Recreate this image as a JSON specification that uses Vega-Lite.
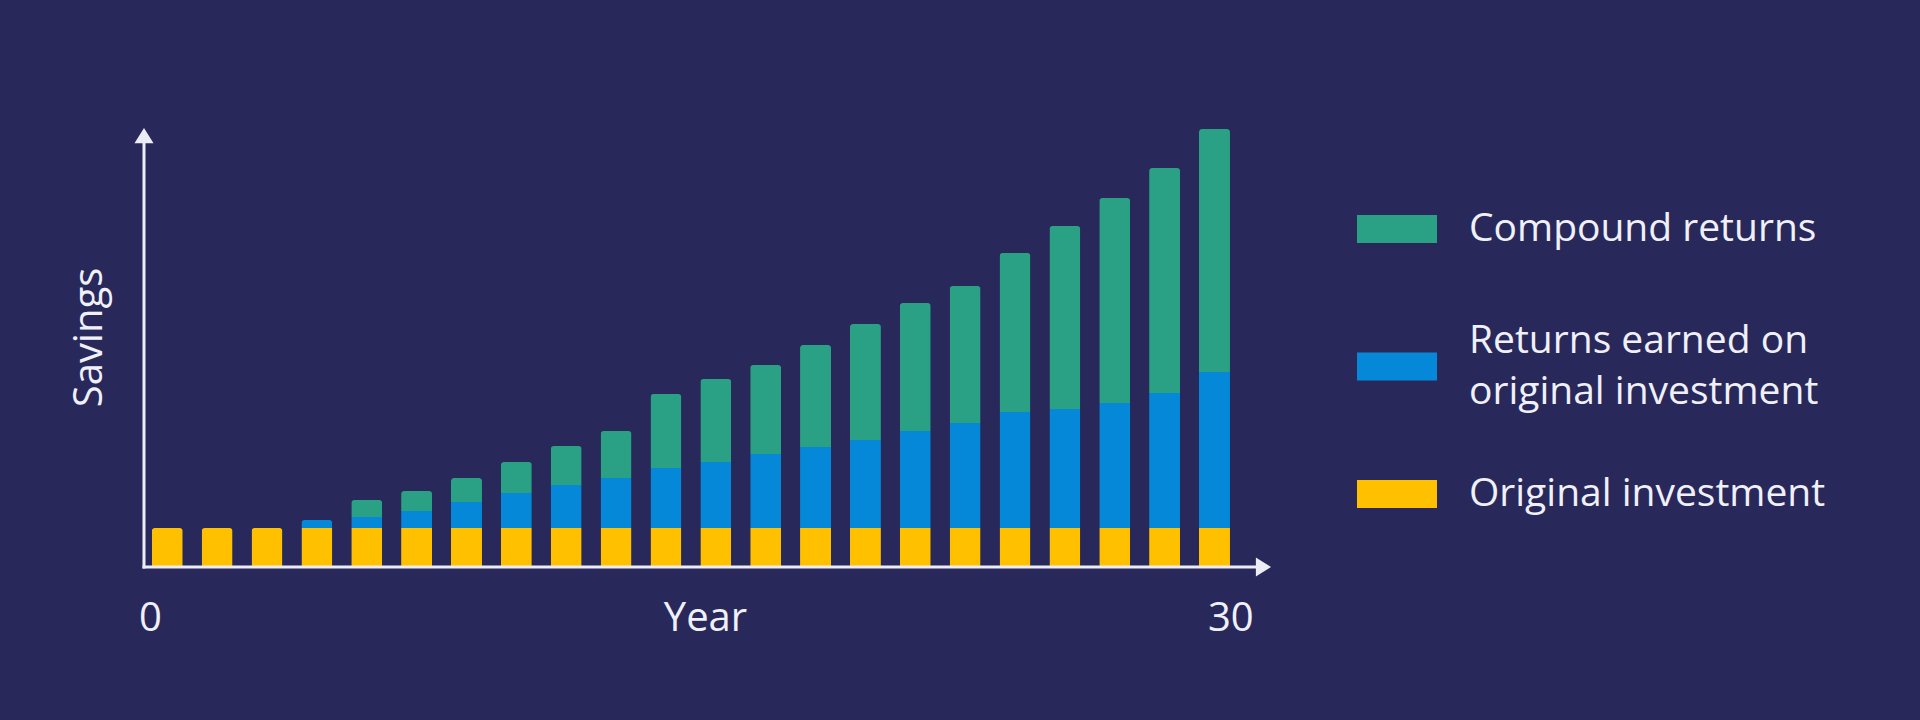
{
  "$schema": "https://vega.github.io/schema/vega-lite/v6.json",
  "width": 1132,
  "height": 439,
  "autosize": {"type": "none"},
  "padding": {"left": 139, "top": 128, "right": 649, "bottom": 153},
  "background": "#28295a",
  "config": {"view": {"stroke": null}, "font": "Open Sans"},
  "data": {
    "values": [
      {"bar": 1, "component": "Original investment", "order": 1, "value": 39},
      {"bar": 2, "component": "Original investment", "order": 1, "value": 39},
      {"bar": 3, "component": "Original investment", "order": 1, "value": 39},
      {"bar": 4, "component": "Original investment", "order": 1, "value": 39},
      {"bar": 5, "component": "Original investment", "order": 1, "value": 39},
      {"bar": 6, "component": "Original investment", "order": 1, "value": 39},
      {"bar": 7, "component": "Original investment", "order": 1, "value": 39},
      {"bar": 8, "component": "Original investment", "order": 1, "value": 39},
      {"bar": 9, "component": "Original investment", "order": 1, "value": 39},
      {"bar": 10, "component": "Original investment", "order": 1, "value": 39},
      {"bar": 11, "component": "Original investment", "order": 1, "value": 39},
      {"bar": 12, "component": "Original investment", "order": 1, "value": 39},
      {"bar": 13, "component": "Original investment", "order": 1, "value": 39},
      {"bar": 14, "component": "Original investment", "order": 1, "value": 39},
      {"bar": 15, "component": "Original investment", "order": 1, "value": 39},
      {"bar": 16, "component": "Original investment", "order": 1, "value": 39},
      {"bar": 17, "component": "Original investment", "order": 1, "value": 39},
      {"bar": 18, "component": "Original investment", "order": 1, "value": 39},
      {"bar": 19, "component": "Original investment", "order": 1, "value": 39},
      {"bar": 20, "component": "Original investment", "order": 1, "value": 39},
      {"bar": 21, "component": "Original investment", "order": 1, "value": 39},
      {"bar": 22, "component": "Original investment", "order": 1, "value": 39},
      {"bar": 4, "component": "Returns earned on original investment", "order": 2, "value": 8},
      {"bar": 5, "component": "Returns earned on original investment", "order": 2, "value": 11},
      {"bar": 6, "component": "Returns earned on original investment", "order": 2, "value": 17},
      {"bar": 7, "component": "Returns earned on original investment", "order": 2, "value": 26},
      {"bar": 8, "component": "Returns earned on original investment", "order": 2, "value": 35},
      {"bar": 9, "component": "Returns earned on original investment", "order": 2, "value": 43},
      {"bar": 10, "component": "Returns earned on original investment", "order": 2, "value": 50},
      {"bar": 11, "component": "Returns earned on original investment", "order": 2, "value": 60},
      {"bar": 12, "component": "Returns earned on original investment", "order": 2, "value": 66},
      {"bar": 13, "component": "Returns earned on original investment", "order": 2, "value": 74},
      {"bar": 14, "component": "Returns earned on original investment", "order": 2, "value": 81},
      {"bar": 15, "component": "Returns earned on original investment", "order": 2, "value": 88},
      {"bar": 16, "component": "Returns earned on original investment", "order": 2, "value": 97},
      {"bar": 17, "component": "Returns earned on original investment", "order": 2, "value": 105},
      {"bar": 18, "component": "Returns earned on original investment", "order": 2, "value": 116},
      {"bar": 19, "component": "Returns earned on original investment", "order": 2, "value": 119},
      {"bar": 20, "component": "Returns earned on original investment", "order": 2, "value": 125},
      {"bar": 21, "component": "Returns earned on original investment", "order": 2, "value": 135},
      {"bar": 22, "component": "Returns earned on original investment", "order": 2, "value": 156},
      {"bar": 5, "component": "Compound returns", "order": 3, "value": 17},
      {"bar": 6, "component": "Compound returns", "order": 3, "value": 20},
      {"bar": 7, "component": "Compound returns", "order": 3, "value": 24},
      {"bar": 8, "component": "Compound returns", "order": 3, "value": 31},
      {"bar": 9, "component": "Compound returns", "order": 3, "value": 39},
      {"bar": 10, "component": "Compound returns", "order": 3, "value": 47},
      {"bar": 11, "component": "Compound returns", "order": 3, "value": 74},
      {"bar": 12, "component": "Compound returns", "order": 3, "value": 83},
      {"bar": 13, "component": "Compound returns", "order": 3, "value": 89},
      {"bar": 14, "component": "Compound returns", "order": 3, "value": 102},
      {"bar": 15, "component": "Compound returns", "order": 3, "value": 116},
      {"bar": 16, "component": "Compound returns", "order": 3, "value": 128},
      {"bar": 17, "component": "Compound returns", "order": 3, "value": 137},
      {"bar": 18, "component": "Compound returns", "order": 3, "value": 159},
      {"bar": 19, "component": "Compound returns", "order": 3, "value": 183},
      {"bar": 20, "component": "Compound returns", "order": 3, "value": 205},
      {"bar": 21, "component": "Compound returns", "order": 3, "value": 225},
      {"bar": 22, "component": "Compound returns", "order": 3, "value": 243}
    ]
  },
  "layer": [
    {
      "mark": {"type": "bar", "width": 31, "cornerRadiusTopLeft": 3, "cornerRadiusTopRight": 3},
      "encoding": {
        "x": {
          "field": "bar",
          "type": "quantitative",
          "scale": {"domain": [0.533, 23.033], "nice": false, "zero": false},
          "axis": {
            "title": "Year",
            "values": [0.652, 22.318],
            "labelExpr": "datum.value < 1 ? '0' : '30'",
            "domain": false,
            "ticks": false,
            "tickSize": 0,
            "grid": false,
            "labelFont": "Open Sans",
            "labelFontSize": 40,
            "labelColor": "#f0f0fa",
            "labelBaseline": "alphabetic",
            "labelPadding": 63,
            "labelFlush": false,
            "labelOverlap": false,
            "titleFont": "Open Sans",
            "titleFontSize": 40,
            "titleFontWeight": "normal",
            "titleColor": "#f0f0fa",
            "titleY": 63,
            "titleBaseline": "alphabetic"
          }
        },
        "y": {
          "field": "value",
          "type": "quantitative",
          "stack": "zero",
          "scale": {"domain": [0, 439], "nice": false},
          "axis": {
            "title": "Savings",
            "domain": false,
            "ticks": false,
            "labels": false,
            "grid": false,
            "titleFont": "Open Sans",
            "titleFontSize": 40,
            "titleFontWeight": "normal",
            "titleColor": "#f0f0fa",
            "titleAngle": -90,
            "titleBaseline": "alphabetic",
            "titleX": -38,
            "titleY": 209
          }
        },
        "color": {
          "field": "component",
          "type": "nominal",
          "scale": {
            "domain": ["Compound returns", "Returns earned on original investment", "Original investment"],
            "range": ["#2aa084", "#0588d8", "#ffc000"]
          },
          "legend": {
            "title": null,
            "orient": "none",
            "legendX": 1218,
            "legendY": 61,
            "symbolType": "M-1,-0.35L1,-0.35L1,0.35L-1,0.35Z",
            "symbolSize": 6400,
            "symbolStrokeWidth": 0,
            "symbolOpacity": 1,
            "labelFont": "Open Sans",
            "labelFontSize": 39,
            "labelColor": "#f0f0fa",
            "labelLimit": 700,
            "labelOffset": 32,
            "rowPadding": 42,
            "labelExpr": "datum.label == 'Returns earned on original investment' ? ['Returns earned on', 'original investment'] : datum.label",
            "encode": {
              "labels": {
                "update": {
                  "lineHeight": {"value": 51},
                  "dy": {"signal": "datum.value == 'Returns earned on original investment' ? 10 : 0"}
                }
              },
              "symbols": {
                "update": {
                  "shape": {"signal": "datum.value == 'Returns earned on original investment' ? 'M-1,0.5375L1,0.5375L1,1.2375L-1,1.2375Z' : 'M-1,-0.35L1,-0.35L1,0.35L-1,0.35Z'"}
                }
              }
            }
          }
        },
        "order": {"field": "order", "type": "quantitative"}
      }
    },
    {
      "data": {"values": [{}]},
      "mark": {"type": "rule", "strokeWidth": 3, "color": "#ececf7", "strokeCap": "square"},
      "encoding": {"x": {"datum": 0.533}, "x2": {"datum": 22.944}, "y": {"datum": 0}}
    },
    {
      "data": {"values": [{}]},
      "mark": {"type": "rule", "strokeWidth": 3, "color": "#ececf7", "strokeCap": "square"},
      "encoding": {"x": {"datum": 0.533}, "y": {"datum": 0}, "y2": {"datum": 429.5}}
    },
    {
      "data": {"values": [{}]},
      "mark": {"type": "point", "filled": true, "opacity": 1, "color": "#ececf7", "size": 361, "shape": "M-0.6,-1L1,0L-0.6,1Z"},
      "encoding": {"x": {"datum": 22.944}, "y": {"datum": 0}}
    },
    {
      "data": {"values": [{}]},
      "mark": {"type": "point", "filled": true, "opacity": 1, "color": "#ececf7", "size": 361, "shape": "M-1,0.6L0,-1L1,0.6Z"},
      "encoding": {"x": {"datum": 0.533}, "y": {"datum": 429.5}}
    }
  ]
}
